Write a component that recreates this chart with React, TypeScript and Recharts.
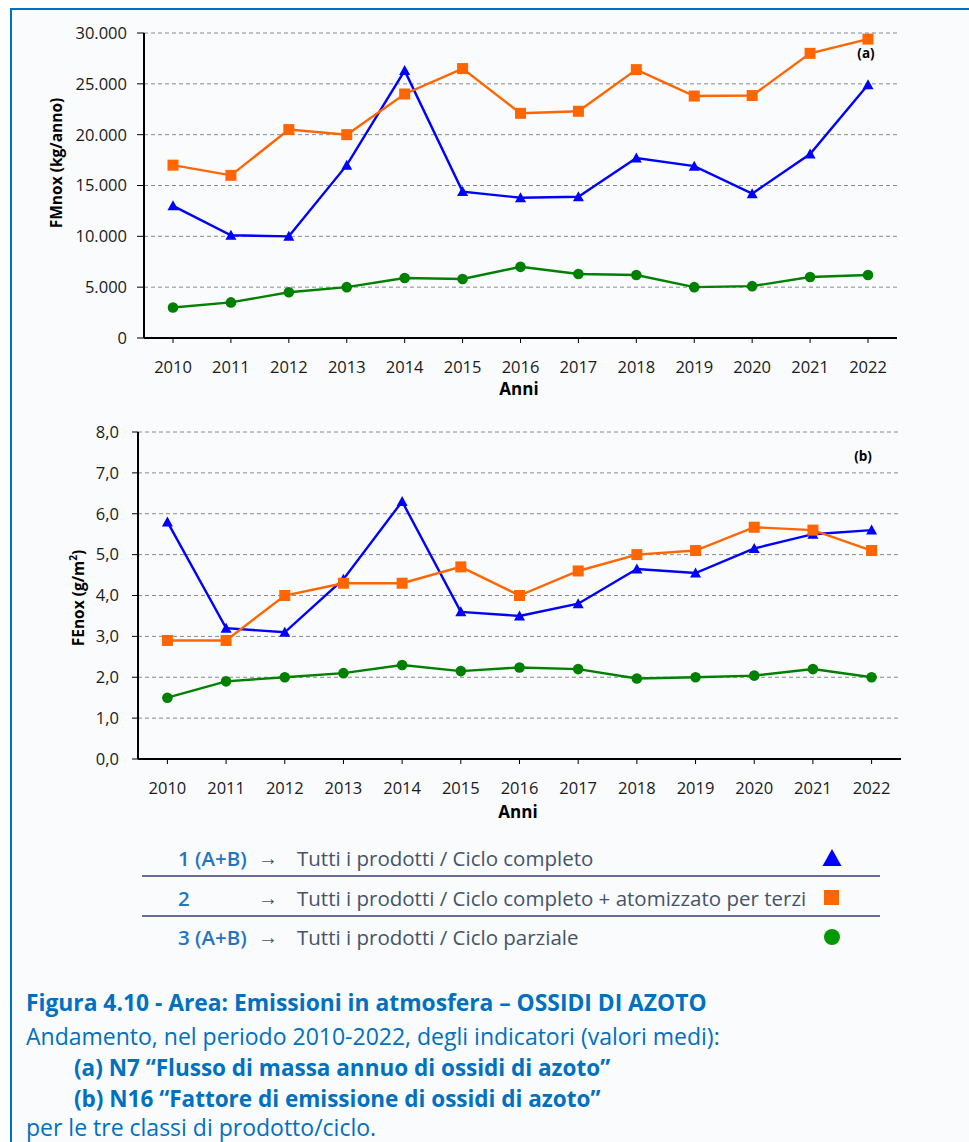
import React from 'react';
import { LineChart, Line, XAxis, YAxis, CartesianGrid, Label } from 'recharts';

const years = ['2010', '2011', '2012', '2013', '2014', '2015', '2016', '2017', '2018', '2019', '2020', '2021', '2022'];
const fmnoxCompleto = [13000, 10100, 10000, 17000, 26300, 14400, 13800, 13900, 17700, 16900, 14200, 18100, 24900];
const fmnoxTerzi = [17000, 16000, 20500, 20000, 24000, 26500, 22100, 22300, 26400, 23800, 23850, 28000, 29400];
const fmnoxParziale = [3000, 3500, 4500, 5000, 5900, 5800, 7000, 6300, 6200, 5000, 5100, 6000, 6200];
const fenoxCompleto = [5.8, 3.2, 3.1, 4.4, 6.3, 3.6, 3.5, 3.8, 4.65, 4.55, 5.15, 5.5, 5.6];
const fenoxTerzi = [2.9, 2.9, 4.0, 4.3, 4.3, 4.7, 4.0, 4.6, 5.0, 5.1, 5.67, 5.6, 5.1];
const fenoxParziale = [1.5, 1.9, 2.0, 2.1, 2.3, 2.15, 2.24, 2.2, 1.97, 2.0, 2.04, 2.2, 2.0];
const fmnoxTicks = [0, 5000, 10000, 15000, 20000, 25000, 30000];
const fenoxTicks = [0, 1, 2, 3, 4, 5, 6, 7, 8];

const legendRows = [
  { num: '1 (A+B)', text: 'Tutti i prodotti / Ciclo completo', shape: 'triangle' },
  { num: '2', text: 'Tutti i prodotti / Ciclo completo + atomizzato per terzi', shape: 'square' },
  { num: '3 (A+B)', text: 'Tutti i prodotti / Ciclo parziale', shape: 'circle' },
];

const BLUE = '#0000FF';
const ORANGE = '#FF6600';
const GREEN = '#008000';
const FONT = '"Open Sans", "Noto Sans", sans-serif';

const dataA = years.map((y, i) => ({ year: y, completo: fmnoxCompleto[i], terzi: fmnoxTerzi[i], parziale: fmnoxParziale[i] }));
const dataB = years.map((y, i) => ({ year: y, completo: fenoxCompleto[i], terzi: fenoxTerzi[i], parziale: fenoxParziale[i] }));

const fmtThousands = (v: number) => String(v).replace(/\B(?=(\d{3})+(?!\d))/g, '.');
const fmtDecimal = (v: number) => v.toFixed(1).replace('.', ',');

const triangleDot = (p: any) => {
  const { cx, cy, index } = p;
  if (cx == null || cy == null) return <g key={`t${index}`} />;
  return <path key={`t${index}`} d={`M${cx},${cy - 5.5} L${cx + 5.5},${cy + 4.5} L${cx - 5.5},${cy + 4.5} Z`} fill={BLUE} />;
};
const squareDot = (p: any) => {
  const { cx, cy, index } = p;
  if (cx == null || cy == null) return <g key={`s${index}`} />;
  return <rect key={`s${index}`} x={cx - 5.5} y={cy - 5.5} width={11} height={11} fill={ORANGE} />;
};
const circleDot = (p: any) => {
  const { cx, cy, index } = p;
  if (cx == null || cy == null) return <g key={`c${index}`} />;
  return <circle key={`c${index}`} cx={cx} cy={cy} r={5.3} fill={GREEN} />;
};

type PanelProps = {
  top: number;
  height: number;
  data: any[];
  ticks: number[];
  domain: [number, number];
  fmt: (v: number) => string;
  yLabel: React.ReactNode;
  tag: string;
  margin: { top: number; right: number; bottom: number; left: number };
  pad: number;
  yTickSize: number;
  yTickMargin: number;
  yLabelPos: [number, number];
  anniPos: [number, number];
  tagPos: [number, number];
};

function Panel(props: PanelProps) {
  const { top, height, data, ticks, domain, fmt, yLabel, tag, margin, pad, yTickSize, yTickMargin, yLabelPos, anniPos, tagPos } = props;
  return (
    <div style={{ position: 'absolute', left: 0, top, width: 969, height }}>
      <LineChart width={969} height={height} data={data} margin={margin}>
        <CartesianGrid horizontal vertical={false} stroke="#8a8a8a" strokeDasharray="4 3" strokeWidth={1} />
        <XAxis
          dataKey="year"
          padding={{ left: pad, right: pad }}
          height={40}
          tickSize={5}
          tickMargin={18}
          axisLine={{ stroke: '#000', strokeWidth: 2 }}
          tickLine={{ stroke: '#000', strokeWidth: 1 }}
          tick={{ fill: '#1a1a1a', fontSize: 16.5, fontFamily: FONT }}
          interval={0}
        >
          <Label
            value="Anni"
            content={() => (
              <g>
                <text x={anniPos[0]} y={anniPos[1] - top} textAnchor="middle" fontFamily={FONT} fontSize={17} fontWeight={700} fill="#000">Anni</text>
                <text x={tagPos[0]} y={tagPos[1] - top} textAnchor="middle" fontFamily={FONT} fontSize={13.5} fontWeight={700} fill="#000">{tag}</text>
              </g>
            )}
          />
        </XAxis>
        <YAxis
          width={60}
          domain={domain}
          ticks={ticks}
          interval={0}
          tickFormatter={fmt}
          tickSize={yTickSize}
          tickMargin={yTickMargin}
          axisLine={{ stroke: '#000', strokeWidth: 2 }}
          tickLine={{ stroke: '#000', strokeWidth: 1 }}
          tick={{ fill: '#1a1a1a', fontSize: 16.5, fontFamily: FONT }}
        >
          <Label
            value="y"
            content={() => (
              <text
                x={yLabelPos[0]}
                y={yLabelPos[1] - top}
                transform={`rotate(-90 ${yLabelPos[0]} ${yLabelPos[1] - top})`}
                textAnchor="middle"
                dominantBaseline="central"
                fontFamily={FONT}
                fontSize={15.5}
                fontWeight={700}
                fill="#000"
              >
                {yLabel}
              </text>
            )}
          />
        </YAxis>
        <Line type="linear" dataKey="completo" stroke={BLUE} strokeWidth={2.4} dot={triangleDot} activeDot={false} isAnimationActive={false} />
        <Line type="linear" dataKey="terzi" stroke={ORANGE} strokeWidth={2.4} dot={squareDot} activeDot={false} isAnimationActive={false} />
        <Line type="linear" dataKey="parziale" stroke={GREEN} strokeWidth={2.4} dot={circleDot} activeDot={false} isAnimationActive={false} />
      </LineChart>
    </div>
  );
}

function LegendMarker({ shape }: { shape: string }) {
  return (
    <svg width={20} height={20} style={{ position: 'absolute', left: 822, top: -10 }}>
      {shape === 'triangle' && <path d="M10,1 L19.5,18 L0.5,18 Z" fill={BLUE} />}
      {shape === 'square' && <rect x={2} y={2} width={15} height={15} fill={ORANGE} />}
      {shape === 'circle' && <circle cx={10} cy={10} r={8} fill="#009900" />}
    </svg>
  );
}

export default function App() {
  const rowCenters = [858, 898, 937];
  const captionBlue = '#0070C0';
  const cap = { position: 'absolute' as const, fontSize: 22.5, lineHeight: '28px', color: captionBlue, whiteSpace: 'nowrap' as const };
  return (
    <div style={{ position: 'absolute', left: 0, top: 0, width: 969, height: 1142, background: '#fff', overflow: 'hidden', fontFamily: FONT }}>
      <div style={{ position: 'absolute', left: 10, top: 8, width: 959, height: 1134, background: '#F9FBFD', borderTop: `2px solid ${captionBlue}`, borderLeft: `2px solid ${captionBlue}`, boxSizing: 'border-box' }} />
      <Panel
        top={0}
        height={400}
        data={dataA}
        ticks={fmnoxTicks}
        domain={[0, 30000]}
        fmt={fmtThousands}
        yLabel="FMnox (kg/anno)"
        tag="(a)"
        margin={{ top: 33, right: 72, bottom: 22, left: 84 }}
        pad={29}
        yTickSize={7}
        yTickMargin={10}
        yLabelPos={[56, 163]}
        anniPos={[519, 395]}
        tagPos={[866, 58]}
      />
      <Panel
        top={400}
        height={440}
        data={dataB}
        ticks={fenoxTicks}
        domain={[0, 8]}
        fmt={fmtDecimal}
        yLabel={<>FEnox (g/m<tspan fontSize={10} dy={-5}>2</tspan><tspan dy={5}>)</tspan></>}
        tag="(b)"
        margin={{ top: 32, right: 68, bottom: 41, left: 78 }}
        pad={29.4}
        yTickSize={6}
        yTickMargin={13}
        yLabelPos={[78, 598]}
        anniPos={[518, 818]}
        tagPos={[863, 461]}
      />
      {legendRows.map((r, i) => (
        <div key={r.num} style={{ position: 'absolute', left: 0, top: rowCenters[i], width: 969, height: 0 }}>
          <div style={{ position: 'absolute', left: 178, top: -16, fontSize: 20.5, lineHeight: '32px', fontWeight: 600, color: '#2474c4', whiteSpace: 'nowrap' }}>{r.num}</div>
          <div style={{ position: 'absolute', left: 258, top: -16, fontSize: 20, lineHeight: '32px', color: '#44546A', whiteSpace: 'nowrap' }}>→</div>
          <div style={{ position: 'absolute', left: 297, top: -16, fontSize: 20.5, lineHeight: '32px', color: '#44546A', whiteSpace: 'nowrap' }}>{r.text}</div>
          <LegendMarker shape={r.shape} />
        </div>
      ))}
      <div style={{ position: 'absolute', left: 142, top: 875, width: 738, height: 2, background: '#6b6b95' }} />
      <div style={{ position: 'absolute', left: 142, top: 915, width: 738, height: 2, background: '#6b6b95' }} />
      <div style={{ ...cap, left: 26, top: 989, fontWeight: 700, fontSize: 22.8 }}>Figura 4.10 - Area: Emissioni in atmosfera – OSSIDI DI AZOTO</div>
      <div style={{ ...cap, left: 26, top: 1022, fontSize: 23 }}>Andamento, nel periodo 2010-2022, degli indicatori (valori medi):</div>
      <div style={{ ...cap, left: 74, top: 1054, fontWeight: 700 }}>(a) N7 “Flusso di massa annuo di ossidi di azoto”</div>
      <div style={{ ...cap, left: 74, top: 1085, fontWeight: 700 }}>(b) N16 “Fattore di emissione di ossidi di azoto”</div>
      <div style={{ ...cap, left: 26, top: 1113, fontSize: 23 }}>per le tre classi di prodotto/ciclo.</div>
    </div>
  );
}
